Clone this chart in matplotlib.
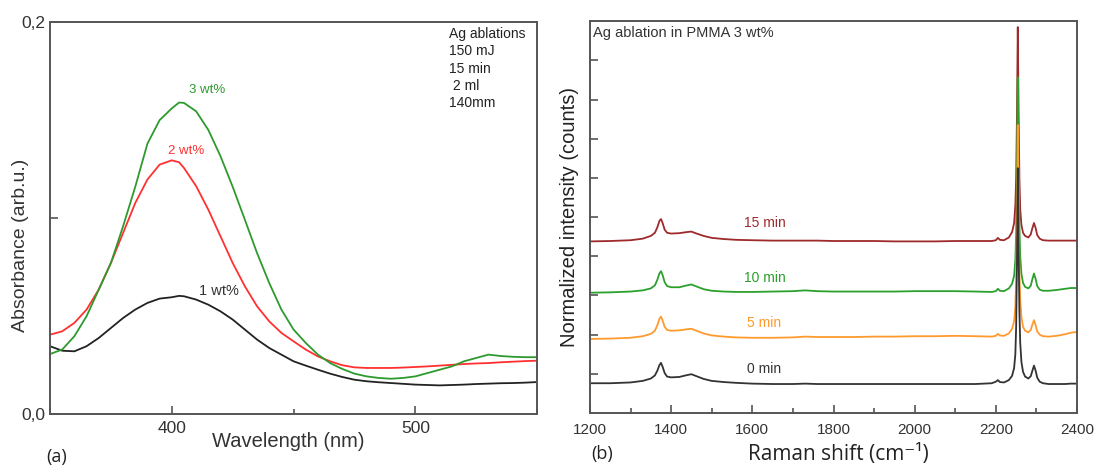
import matplotlib
matplotlib.use("Agg")
import matplotlib.pyplot as plt
from matplotlib.ticker import MultipleLocator

plt.rcParams['font.family'] = ['Liberation Sans', 'DejaVu Sans']

# (a) UV-vis absorbance
wl = [350, 355, 360, 365, 370, 375, 380, 385, 390, 395, 400, 403, 405, 410, 415, 420,
      425, 430, 435, 440, 445, 450, 455, 460, 465, 470, 475, 480, 485, 490, 495, 500,
      505, 510, 515, 520, 525, 530, 535, 540, 545, 550]
abs_3wt = [0.0306, 0.0329, 0.0397, 0.0499, 0.0635, 0.0771, 0.0958, 0.1160, 0.1380, 0.1500,
           0.1560, 0.1590, 0.1588, 0.1545, 0.1450, 0.1316, 0.1160, 0.0992, 0.0822, 0.0669,
           0.0533, 0.0431, 0.0363, 0.0303, 0.0260, 0.0230, 0.0206, 0.0192, 0.0184, 0.0180,
           0.0184, 0.0192, 0.0209, 0.0226, 0.0243, 0.0269, 0.0286, 0.0303, 0.0296, 0.0292,
           0.0290, 0.0290]
abs_2wt = [0.0405, 0.0422, 0.0465, 0.0533, 0.0635, 0.0771, 0.0924, 0.1077, 0.1197, 0.1273,
           0.1295, 0.1285, 0.1256, 0.1163, 0.1043, 0.0907, 0.0771, 0.0652, 0.0550, 0.0473,
           0.0414, 0.0371, 0.0329, 0.0294, 0.0269, 0.0249, 0.0238, 0.0235, 0.0235, 0.0235,
           0.0237, 0.0240, 0.0243, 0.0247, 0.0251, 0.0255, 0.0258, 0.0260, 0.0264, 0.0267,
           0.0270, 0.0272]
abs_1wt = [0.0346, 0.0323, 0.0320, 0.0346, 0.0388, 0.0439, 0.0490, 0.0533, 0.0567, 0.0589,
           0.0596, 0.0603, 0.0601, 0.0584, 0.0558, 0.0524, 0.0482, 0.0431, 0.0380, 0.0337,
           0.0303, 0.0269, 0.0247, 0.0226, 0.0206, 0.0189, 0.0175, 0.0167, 0.0162, 0.0158,
           0.0154, 0.0150, 0.0148, 0.0146, 0.0148, 0.0150, 0.0153, 0.0155, 0.0157, 0.0158,
           0.0160, 0.0163]

# (b) Raman spectra (offset)
shift = [1200, 1250, 1300, 1330, 1350, 1360, 1366, 1371, 1375, 1379, 1384, 1390, 1400,
         1420, 1440, 1450, 1460, 1480, 1500, 1530, 1560, 1600, 1650, 1700, 1730, 1760,
         1800, 1850, 1900, 1950, 2000, 2050, 2100, 2150, 2190, 2200, 2205, 2210, 2220,
         2232, 2240, 2245, 2248, 2250, 2252, 2254, 2256, 2258, 2260, 2263, 2267, 2272,
         2280, 2286, 2290, 2294, 2298, 2302, 2308, 2316, 2330, 2350, 2370, 2385, 2400]
r_0min = [0.76, 0.76, 0.78, 0.82, 0.88, 0.96, 1.08, 1.22, 1.28, 1.18, 1.02, 0.93, 0.91,
          0.92, 0.97, 0.99, 0.95, 0.87, 0.82, 0.79, 0.77, 0.75, 0.74, 0.74, 0.75, 0.74,
          0.74, 0.74, 0.74, 0.74, 0.74, 0.74, 0.74, 0.74, 0.76, 0.80, 0.84, 0.79, 0.78,
          0.84, 0.95, 1.15, 1.50, 2.20, 3.80, 6.25, 4.20, 2.60, 1.80, 1.30, 1.05, 0.93,
          0.88, 0.94, 1.08, 1.21, 1.08, 0.90, 0.80, 0.76, 0.74, 0.74, 0.74, 0.75, 0.75]
r_5min = [1.89, 1.90, 1.92, 1.96, 2.02, 2.10, 2.24, 2.40, 2.46, 2.36, 2.20, 2.12, 2.10,
          2.11, 2.14, 2.15, 2.11, 2.03, 1.98, 1.95, 1.93, 1.92, 1.92, 1.93, 1.95, 1.94,
          1.94, 1.94, 1.95, 1.95, 1.96, 1.96, 1.97, 1.96, 1.95, 1.97, 2.02, 1.98, 1.97,
          2.03, 2.15, 2.35, 2.70, 3.40, 5.00, 7.35, 5.20, 3.60, 2.90, 2.45, 2.20, 2.10,
          2.06, 2.12, 2.26, 2.37, 2.24, 2.08, 2.00, 1.96, 1.95, 1.97, 2.01, 2.05, 2.07]
r_10min = [3.07, 3.08, 3.10, 3.13, 3.18, 3.26, 3.40, 3.56, 3.62, 3.52, 3.34, 3.24, 3.21,
           3.21, 3.26, 3.28, 3.24, 3.16, 3.12, 3.10, 3.09, 3.09, 3.10, 3.11, 3.13, 3.11,
           3.10, 3.10, 3.10, 3.10, 3.11, 3.11, 3.11, 3.10, 3.09, 3.11, 3.17, 3.12, 3.11,
           3.18, 3.30, 3.50, 3.90, 4.60, 6.20, 8.57, 6.40, 4.80, 4.00, 3.55, 3.32, 3.22,
           3.18, 3.25, 3.42, 3.56, 3.42, 3.24, 3.15, 3.12, 3.12, 3.14, 3.17, 3.19, 3.19]
r_15min = [4.38, 4.39, 4.41, 4.45, 4.52, 4.60, 4.74, 4.90, 4.95, 4.85, 4.68, 4.60, 4.58,
           4.59, 4.62, 4.63, 4.59, 4.52, 4.47, 4.44, 4.42, 4.41, 4.40, 4.40, 4.40, 4.40,
           4.39, 4.39, 4.39, 4.38, 4.38, 4.38, 4.39, 4.39, 4.39, 4.41, 4.47, 4.42, 4.41,
           4.48, 4.62, 4.85, 5.30, 6.00, 7.60, 9.85, 7.70, 6.00, 5.20, 4.80, 4.60, 4.52,
           4.48, 4.56, 4.72, 4.85, 4.72, 4.54, 4.45, 4.41, 4.40, 4.40, 4.40, 4.40, 4.40]

spine_col = '#555555'
fig = plt.figure(figsize=(10.97, 4.67), dpi=100)

#--- panel (a)
ax1 = fig.add_axes([0.0456, 0.1135, 0.444, 0.839])
ax1.plot(wl, abs_1wt, color='#222222', lw=1.3)
ax1.plot(wl, abs_2wt, color='#ff3030', lw=1.3)
ax1.plot(wl, abs_3wt, color='#2e9a2e', lw=1.3)
ax1.set_xlim(350, 550)
ax1.set_ylim(0, 0.2)
ax1.set_xticks([400, 500])
ax1.xaxis.set_minor_locator(MultipleLocator(50))
ax1.set_yticks([0, 0.1, 0.2])
ax1.set_yticklabels(['0,0', '', '0,2'])
ax1.text(414.6, 0.1656, '3 wt%', color='#2e9a2e', fontsize=9.5, ha='center', va='center')
ax1.text(405.8, 0.134, '2 wt%', color='#ff3030', fontsize=9.5, ha='center', va='center')
ax1.text(419.3, 0.0626, '1 wt%', color='#333333', fontsize=10.5, ha='center', va='center')
ax1.text(513.7, 0.1975, 'Ag ablations\n150 mJ\n15 min\n 2 ml\n140mm', fontsize=10,
         color='#222222', ha='left', va='top', linespacing=1.3)
ax1.set_xlabel('Wavelength (nm)', fontsize=14.5, color='#333333')
ax1.xaxis.set_label_coords(0.49, -0.046)
ax1.set_ylabel('Absorbance (arb.u.)', fontsize=14, color='#333333')
ax1.yaxis.set_label_coords(-0.043, 0.43)

#--- panel (b)
ax2 = fig.add_axes([0.5378, 0.1156, 0.444, 0.839])
ax2.plot(shift, r_15min, color='#9e2a2b', lw=1.3)
ax2.plot(shift, r_10min, color='#2ca02c', lw=1.3)
ax2.plot(shift, r_5min, color='#ff9a2e', lw=1.3)
ax2.plot(shift, r_0min, color='#333333', lw=1.3)
ax2.set_xlim(1200, 2400)
ax2.set_ylim(0, 10)
ax2.set_xticks([1200, 1400, 1600, 1800, 2000, 2200, 2400])
ax2.xaxis.set_minor_locator(MultipleLocator(100))
ax2.set_yticks(range(1, 10))
ax2.set_yticklabels([])
ax2.text(1630, 4.84, '15 min', color='#9e2a2b', fontsize=10, ha='center', va='center')
ax2.text(1630, 3.45, '10 min', color='#2ca02c', fontsize=10, ha='center', va='center')
ax2.text(1630, 2.30, '5 min', color='#ff9a2e', fontsize=10, ha='center', va='center')
ax2.text(1630, 1.13, '0 min', color='#333333', fontsize=10, ha='center', va='center')
ax2.text(1208, 9.88, 'Ag ablation in PMMA 3 wt%', fontsize=10.5, color='#333333',
         ha='left', va='top')
ax2.set_xlabel('Raman shift (cm\u207b\u00b9)', fontsize=15,
               family=['Open Sans', 'DejaVu Sans'], color='#222222')
ax2.xaxis.set_label_coords(0.51, -0.08)
ax2.set_ylabel('Normalized intensity (counts)', fontsize=14.5, color='#222222')
ax2.yaxis.set_label_coords(-0.023, 0.5)

for ax in (ax1, ax2):
    for s in ax.spines.values():
        s.set_color(spine_col)
        s.set_linewidth(1.4)
    ax.tick_params(which='major', direction='in', length=6, width=1.2, color=spine_col,
                   labelsize=11, labelcolor='#333333')
    ax.tick_params(which='minor', direction='in', length=3.5, width=1.2, color=spine_col)
ax1.tick_params(axis='both', labelsize=12.5)
ax1.tick_params(axis='x', pad=5)
ax2.tick_params(axis='x', pad=7)

fig.text(0.052, 0.022, '(a)', fontsize=13, family='Open Sans', color='#222222',
         ha='center', va='center')
fig.text(0.549, 0.028, '(b)', fontsize=13, family='Open Sans', color='#222222',
         ha='center', va='center')

fig.savefig('out.png', dpi=100)
